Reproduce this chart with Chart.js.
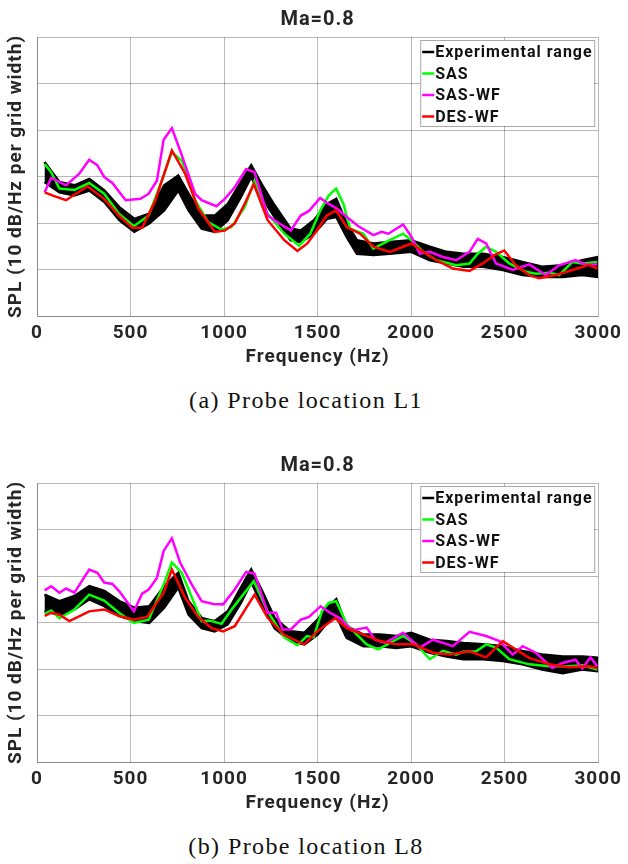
<!DOCTYPE html>
<html>
<head>
<meta charset="utf-8">
<script src="https://cdn.jsdelivr.net/npm/chart.js@4"></script>
<style>
  body { margin: 0; background: #fff; width: 628px; height: 864px; position: relative; overflow: hidden; }
  canvas { position: absolute; left: 0; }
  .cap { position: absolute; width: 628px; left: -8px; text-align: center; font-family: "Liberation Serif", serif; font-size: 24px; letter-spacing: 1.4px; color: #111; }
</style>
</head>
<body>
<canvas id="chartL1" width="628" height="372" style="top:0"></canvas>
<div class="cap" style="top:387px">(a) Probe location L1</div>
<canvas id="chartL8" width="628" height="372" style="top:446px"></canvas>
<div class="cap" style="top:833px">(b) Probe location L8</div>
<script>
// values in dB, 10 dB per grid line

// probe L1
var l1BandHz = [40,120,200,280,360,440,520,600,680,755,810,880,950,1020,1090,1145,1200,1270,1355,1410,1480,1550,1600,1655,1710,1800,1885,2000,2100,2190,2280,2385,2490,2595,2700,2810,2915,3000]
var l1BandHi = [33.1,28.8,28.1,29.5,27.0,23.4,20.9,22.0,28.1,30.2,26.3,21.6,21.6,24.1,28.8,32.4,28.4,23.8,18.8,18.4,20.6,24.1,25.2,19.9,16.3,15.6,15.9,16.3,14.9,13.8,13.4,13.4,12.7,11.6,10.6,10.9,12.0,12.7]
var l1BandLo = [28.8,26.6,25.9,27.0,24.5,20.6,18.1,19.9,22.7,27.0,22.7,18.8,18.1,20.6,25.6,29.9,25.6,21.3,16.3,15.9,17.7,20.9,21.3,17.0,13.4,13.1,13.4,13.8,12.0,11.3,10.6,10.6,9.9,8.8,8.4,8.4,8.8,8.4]

var l1SasHz = [41,76,120,200,279,359,438,518,597,677,721,774,845,915,986,1039,1110,1163,1233,1322,1401,1461,1514,1559,1599,1638,1674,1745,1798,1869,1957,2002,2064,2135,2241,2312,2356,2401,2454,2525,2614,2667,2738,2791,2862,2915,2995]
var l1Sas = [32.7,30.9,27.4,27.1,28.6,26.3,22.0,19.3,21.6,30.2,35.2,33.4,24.9,20.2,18.6,19.1,23.4,29.1,22.0,17.7,15.1,17.7,22.7,25.9,27.4,24.1,18.8,17.7,14.5,16.0,17.7,16.3,13.8,12.0,10.9,11.3,13.4,14.9,13.8,11.3,9.5,9.1,9.3,8.8,11.6,11.3,11.6]

var l1WfHz = [41,76,155,226,279,323,359,403,474,553,597,641,677,721,765,845,880,959,1004,1057,1118,1163,1233,1295,1357,1410,1454,1514,1559,1603,1656,1718,1798,1842,1878,1957,2002,2046,2099,2170,2241,2312,2356,2401,2454,2543,2631,2720,2791,2879,2933,2995]
var l1Wf = [26.6,29.7,28.1,30.6,33.6,32.4,29.9,28.6,24.9,25.2,26.3,29.1,37.9,40.4,35.6,26.3,24.9,23.6,25.2,27.7,31.6,30.9,21.6,19.9,18.4,21.6,22.6,25.4,24.1,23.1,21.3,19.3,17.4,18.1,17.7,19.7,17.0,13.4,13.8,12.7,12.0,13.8,16.6,15.6,11.3,9.9,11.1,8.8,10.9,12.0,11.1,11.1]

var l1DesHz = [41,85,155,270,359,438,509,562,633,721,792,862,951,1004,1057,1110,1159,1233,1322,1392,1445,1496,1549,1599,1656,1727,1798,1887,1957,2002,2064,2135,2223,2312,2383,2445,2498,2560,2631,2684,2773,2862,2950,2995]
var l1Des = [26.6,25.9,24.9,27.9,25.2,21.6,19.0,19.0,24.9,35.6,30.6,23.1,18.1,18.4,19.9,24.1,28.4,20.6,16.3,14.0,15.6,18.4,21.6,22.7,19.1,17.7,14.9,13.8,14.9,15.6,13.8,12.0,10.2,9.7,11.3,13.1,14.1,10.9,8.8,8.1,8.8,9.9,11.0,10.2]

// probe L8
var l8BandHz = [40,120,200,280,360,440,520,600,680,755,810,880,950,1020,1090,1145,1200,1270,1355,1430,1500,1550,1600,1655,1745,1835,1920,2000,2100,2190,2280,2385,2490,2595,2700,2810,2915,3000]
var l8BandHi = [36.0,34.6,35.7,37.8,36.8,34.6,33.2,33.5,37.8,40.7,34.6,31.0,30.3,32.4,37.5,41.4,37.1,31.0,28.1,27.8,30.6,33.2,35.0,29.2,27.4,27.4,27.1,27.8,26.3,26.0,25.6,25.3,24.9,23.9,23.1,22.7,22.7,22.4]
var l8BandLo = [32.4,31.7,32.8,35.0,33.5,31.4,30.3,29.9,33.2,37.5,31.7,28.8,28.1,29.6,34.2,38.6,34.2,28.8,26.0,25.3,27.4,29.9,31.4,26.7,24.9,24.9,24.5,24.9,23.5,22.7,22.1,22.1,21.7,21.0,19.9,19.1,19.9,19.5]

var l8SasHz = [41,76,120,200,279,359,438,518,597,677,721,774,880,924,986,1048,1110,1159,1233,1322,1392,1443,1479,1523,1559,1599,1656,1762,1824,1957,2028,2099,2170,2241,2277,2348,2401,2454,2525,2631,2738,2844,2915,2995]
var l8Sas = [31.9,32.6,30.9,32.8,36.0,34.7,32.1,29.9,30.6,38.2,42.9,40.7,30.3,30.4,29.7,33.2,36.4,38.9,32.4,26.8,25.1,27.1,26.8,32.4,34.2,34.6,29.6,25.3,24.2,27.1,25.3,22.1,23.9,23.1,23.7,23.8,25.3,24.6,22.1,21.0,20.6,20.6,20.8,19.9]

var l8WfHz = [41,76,120,155,200,279,323,359,403,438,518,562,597,641,677,721,765,827,880,942,995,1057,1118,1163,1233,1278,1313,1357,1410,1454,1516,1567,1621,1683,1762,1807,1860,1957,2046,2117,2223,2312,2401,2472,2543,2596,2667,2755,2809,2879,2915,2959,2995]
var l8Wf = [36.9,37.8,36.4,37.3,36.4,41.4,40.7,38.6,38.3,36.8,32.4,36.2,37.1,39.6,45.4,48.1,42.9,38.2,34.6,34.0,33.9,37.1,40.9,40.5,32.1,32.1,28.5,28.5,30.6,31.2,33.5,32.1,30.9,28.3,28.9,26.3,25.6,27.8,24.6,26.3,24.9,28.0,27.1,26.0,23.1,24.9,23.5,20.2,21.3,22.0,20.1,22.5,20.6]

var l8DesHz = [41,76,120,173,279,359,438,518,588,677,721,792,862,933,995,1057,1163,1233,1322,1428,1498,1551,1594,1656,1745,1833,1922,2011,2117,2206,2312,2401,2489,2560,2631,2738,2844,2950,2995]
var l8Des = [31.4,32.1,31.7,30.3,32.4,32.8,31.4,30.6,31.2,36.4,41.4,35.3,31.2,28.8,28.1,29.2,36.0,31.0,27.3,25.3,28.1,29.7,30.9,28.8,27.4,26.0,25.3,25.3,23.5,23.1,23.8,22.5,26.0,24.2,22.4,21.0,20.4,20.6,20.2]

var legendNames = ["Experimental range","SAS","SAS-WF","DES-WF"]
var legendColors = ["#000000","#00ff00","#ff00ff","#ff0000"]
var xTicks = [0,500,1000,1500,2000,2500,3000]

var textColor = "#262626"
var gridColor = "rgba(38,38,38,0.32)"
var fontName = "Roboto"

var pts = function(xs, ys){
  return xs.map(function(x, i){ return {x: x, y: ys[i]} })
}

// the source figure's text is a bit wider than Roboto, so space it out
var wideText = {
  id: "wideText",
  beforeUpdate: function(chart){ chart.ctx.letterSpacing = "1px" },
  beforeDraw: function(chart){ chart.ctx.letterSpacing = "1px" }
}

// legend box in the top right of the plot, like matlab's
var boxLegend = {
  id: "boxLegend",
  afterDatasetsDraw: function(chart){
    var c = chart.ctx
    var a = chart.chartArea
    var w = 174, h = 86
    var x0 = a.right - w - 4, y0 = a.top + 3
    c.save()
    c.fillStyle = "#fff"
    c.fillRect(x0, y0, w, h)
    c.strokeStyle = "rgba(38,38,38,0.4)"
    c.lineWidth = 1
    c.strokeRect(x0 + 0.5, y0 + 0.5, w, h)
    c.font = "bold 16px " + fontName
    c.textBaseline = "middle"
    for (var i = 0; i < legendNames.length; i++) {
      var y = y0 + 12 + i * 21.5
      c.strokeStyle = legendColors[i]
      c.lineWidth = 2.5
      c.beginPath()
      c.moveTo(x0 + 2, y)
      c.lineTo(x0 + 14, y)
      c.stroke()
      c.fillStyle = "#111"
      c.fillText(legendNames[i], x0 + 15, y + 1)
    }
    c.restore()
  }
}

var makeChart = function(id, bandHz, bandHi, bandLo, sasHz, sas, wfHz, wf, desHz, des){
  var line = function(data, color){
    return {data: data, borderColor: color, borderWidth: 2.5, pointRadius: 0, fill: false, tension: 0}
  }
  return new Chart(document.getElementById(id), {
    type: "line",
    data: {
      datasets: [
        line(pts(desHz, des), legendColors[3]),
        line(pts(wfHz, wf), legendColors[2]),
        line(pts(sasHz, sas), legendColors[1]),
        {data: pts(bandHz, bandHi), borderColor: "#000", backgroundColor: "#000", borderWidth: 2.5, pointRadius: 0, fill: "+1", tension: 0},
        {data: pts(bandHz, bandLo), borderColor: "#000", borderWidth: 2.5, pointRadius: 0, fill: false, tension: 0}
      ]
    },
    options: {
      responsive: false,
      animation: false,
      devicePixelRatio: 1,
      layout: {padding: {left: 0, right: 25, top: 0, bottom: 0}},
      plugins: {
        legend: {display: false},
        tooltip: {enabled: false},
        title: {display: true, fullSize: false, text: "Ma=0.8", color: textColor, font: {family: fontName, size: 20, weight: "bold"}, padding: {top: 8, bottom: 5}}
      },
      scales: {
        x: {
          type: "linear", min: 0, max: 3000,
          afterBuildTicks: function(s){ s.ticks = xTicks.map(function(v){ return {value: v} }) },
          afterFit: function(s){ s.height = 56 },
          grid: {color: gridColor, drawTicks: false},
          border: {color: gridColor},
          ticks: {color: textColor, padding: 6, maxRotation: 0, font: {family: fontName, size: 19, weight: "bold"},
            callback: function(v){ return String(v) }},
          title: {display: true, text: "Frequency (Hz)", color: textColor, padding: {top: 3, bottom: 3}, font: {family: fontName, size: 19, weight: "bold"}}
        },
        y: {
          min: 0, max: 60,
          afterFit: function(s){ s.width = 37 },
          grid: {color: gridColor, drawTicks: false},
          border: {color: gridColor},
          ticks: {display: false, stepSize: 10},
          title: {display: true, text: "SPL (10 dB/Hz per grid width)", color: textColor, padding: {top: 5, bottom: 3}, font: {family: fontName, size: 19, weight: "bold"}}
        }
      }
    },
    plugins: [wideText, boxLegend]
  })
}

makeChart("chartL1", l1BandHz, l1BandHi, l1BandLo, l1SasHz, l1Sas, l1WfHz, l1Wf, l1DesHz, l1Des)
makeChart("chartL8", l8BandHz, l8BandHi, l8BandLo, l8SasHz, l8Sas, l8WfHz, l8Wf, l8DesHz, l8Des)
</script>
</body>
</html>
